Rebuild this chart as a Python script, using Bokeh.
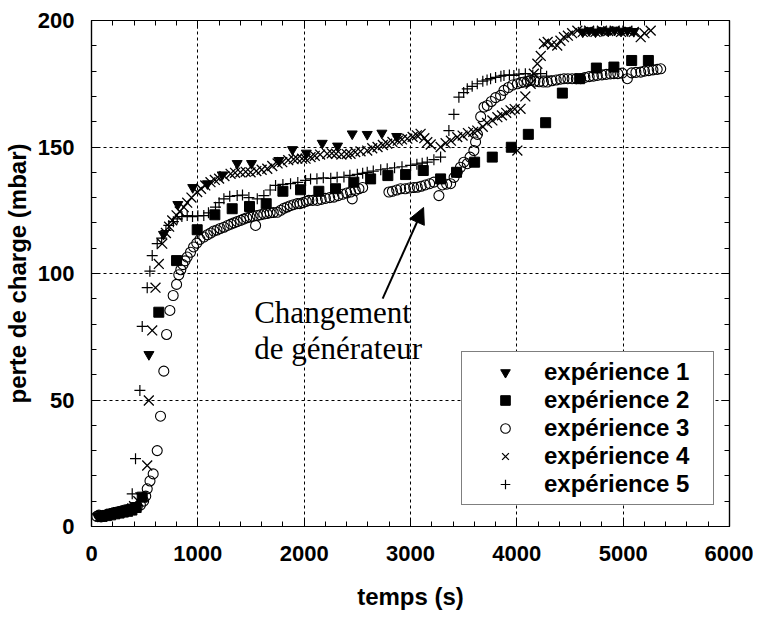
from bokeh.plotting import figure
from bokeh.models import LinearAxis, FixedTicker, Range1d, Arrow, NormalHead
from bokeh.core.properties import value
from bokeh.embed import file_html
from bokeh.resources import INLINE

# ---------------- data ----------------
X_TICKS = [0, 1000, 2000, 3000, 4000, 5000, 6000]
X_MINOR = list(range(0, 6001, 200))
Y_TICKS = [0, 50, 100, 150, 200]
Y_MINOR = list(range(0, 201, 10))

S1_X = [60, 120, 180, 240, 300, 360, 420, 540, 677, 812, 952, 1090, 1229, 1370, 1505, 1762,
        1890, 2020, 2170, 2314, 2452, 2593, 2731, 2870,
        4620, 4680, 4740, 4800, 4860, 4920, 4980, 5040, 5100]
S1_Y = [4.0, 4.5, 5.0, 5.5, 6.0, 6.8, 7.5, 68.0, 115.5, 127.3, 134.0, 135.5, 139.0, 143.5, 143.5, 144.7,
        149.0, 147.6, 151.5, 150.4, 155.2, 155.0, 155.5, 154.2,
        195.5, 196.0, 195.5, 196.0, 195.8, 196.2, 195.8, 196.0, 195.7]

S2_X = [100, 140, 180, 220, 260, 300, 340, 380, 420, 477, 633, 800, 994, 1160, 1323, 1486, 1643,
        1800, 1966, 2138, 2295, 2467, 2625, 2787, 2954, 3120, 3283, 3433, 3603, 3769, 3948,
        4108, 4271, 4428, 4591, 4748, 4913, 5080, 5237]
S2_Y = [4.0, 4.3, 4.6, 5.0, 5.3, 5.7, 6.0, 6.5, 7.5, 11.6, 84.7, 105.1, 117.3, 123.2, 125.6, 126.5, 127.6,
        132.5, 133.1, 132.5, 133.5, 136.1, 137.4, 138.7, 139.1, 140.7, 137.4, 140.0, 144.0, 146.0, 149.9,
        155.0, 159.6, 171.3, 177.0, 181.2, 181.6, 184.2, 184.2]

S3_X = [50, 70, 90, 110, 130, 150, 170, 190, 210, 230, 250, 270, 290, 310, 330, 350, 370, 400, 430, 460,
        490, 510, 524, 550, 580, 618, 649, 680, 706, 737, 768, 800, 821, 840, 860, 880, 900, 931, 960, 990,
        1020, 1056, 1090, 1120, 1150, 1180, 1210, 1245, 1280, 1310, 1340, 1370, 1402, 1430, 1460, 1490,
        1520, 1543, 1559, 1590, 1620, 1650, 1680, 1710, 1747, 1780, 1810, 1840, 1870, 1900, 1935, 1960,
        1990, 2020, 2044, 2080, 2123, 2160, 2200, 2240, 2280, 2320, 2360, 2400, 2436, 2452, 2480, 2515,
        2550, 2797, 2830, 2870, 2907, 2950, 2990, 3030, 3064, 3100, 3140, 3180, 3220, 3267, 3300, 3340,
        3377, 3410, 3440, 3470, 3502, 3534, 3560, 3596, 3612, 3630, 3660, 3691, 3722, 3760, 3800, 3847,
        3879, 3920, 3960, 4005, 4040, 4067, 4100, 4130, 4170, 4210, 4250, 4287, 4330, 4370, 4410, 4443,
        4480, 4520, 4560, 4600, 4640, 4680, 4720, 4757, 4800, 4840, 4880, 4913, 4950, 4990, 5039, 5080,
        5120, 5165, 5200, 5240, 5280, 5320, 5353]
S3_Y = [4.0, 4.5, 3.8, 4.2, 4.5, 4.8, 5.0, 5.2, 5.5, 5.6, 5.8, 6.0, 6.2, 6.5, 6.6, 6.8, 7.0, 7.3, 7.8, 8.5,
        10.0, 12.0, 14.9, 18.0, 20.8, 30.0, 43.6, 61.4, 75.9, 85.4, 91.3, 95.7, 99.5, 101.5, 103.5, 105.0,
        106.5, 108.4, 110.5, 112.0,
        113.5, 114.4, 115.3, 116.0, 116.8, 117.2, 117.8, 118.3, 119.0, 119.5, 120.0, 120.5, 121.0, 121.5,
        122.0, 122.3,
        122.6, 119.0, 122.9, 123.2, 123.5, 123.7, 124.0, 124.1, 124.2, 125.0, 125.8, 126.3, 126.8, 127.2,
        127.6, 127.6,
        128.0, 128.5, 128.9, 128.9, 128.9, 129.3, 129.7, 130.0, 130.2, 130.8, 131.3, 131.8, 132.2, 129.5,
        132.8, 133.5,
        134.0, 132.2, 132.5, 133.0, 133.5, 133.5, 133.8, 134.0, 134.1, 134.5, 135.0, 135.5, 136.1, 130.8,
        135.0, 135.3,
        135.5, 138.0, 140.0, 142.0, 144.0, 143.4, 146.0, 148.6, 152.0, 155.0, 162.0, 165.8, 166.4, 168.0,
        169.5, 170.4,
        172.4, 173.5, 174.5, 175.0, 175.5, 175.7, 176.0, 176.3, 176.0, 175.8, 175.7, 175.7, 176.2, 176.5,
        176.8, 177.0,
        177.0, 177.0, 177.0, 177.0, 177.5, 177.8, 178.0, 178.3, 178.5, 178.7, 178.9, 179.0, 179.0, 179.2,
        177.0, 179.3,
        179.5, 179.6, 180.0, 180.2, 180.5, 180.7, 180.9]

S4_X = [80, 150, 220, 290, 360, 400, 440, 461, 524, 539, 571, 602, 633, 665, 700, 730, 759, 800, 830, 868,
        900, 940, 994, 1030, 1070, 1119, 1160, 1200, 1250, 1308, 1350, 1400, 1450, 1496, 1550, 1600, 1653,
        1700, 1750, 1794, 1850, 1900, 1935, 1980, 2013, 2060, 2100, 2150, 2217, 2260, 2300, 2350, 2400,
        2436, 2480, 2530, 2593, 2640, 2690, 2740, 2781, 2830, 2880, 2920, 2970, 3020, 3060, 3095, 3130,
        3158, 3190, 3283, 3330, 3380, 3440, 3490, 3540, 3590, 3628, 3680, 3720, 3770, 3817, 3860, 3900,
        3941, 3980, 4005, 4035, 4080, 4130, 4160, 4193, 4225, 4255, 4290, 4330, 4380, 4410, 4443, 4480,
        4520, 4569, 4620, 4680, 4740, 4800, 4860, 4920, 4980, 5040, 5100, 5165, 5200, 5259]
S4_Y = [4.0, 4.5, 5.2, 5.8, 6.5, 8.0, 10.0, 11.6, 24.1, 49.8, 77.5, 94.4, 103.8, 111.8, 116.0, 118.5,
        121.0, 123.0, 124.5, 126.2, 128.0, 130.0, 132.2, 133.5, 134.8, 136.1, 137.0, 137.5, 138.5, 139.4,
        139.8, 140.0, 140.2, 140.0, 140.5, 141.0, 141.4, 142.5, 143.5, 144.0, 144.8, 145.2, 145.4, 145.4,
        145.4, 146.0, 146.5, 147.0, 147.3, 147.5, 147.3, 147.0, 147.2, 147.3, 148.0, 148.3, 148.6, 149.5,
        150.0, 150.8, 151.3, 152.0, 152.5, 153.0, 153.3, 154.0, 154.6, 155.2, 153.5, 151.9, 151.0, 150.0,
        151.5, 152.5, 153.9, 154.5, 155.5, 156.0, 156.5, 158.0, 159.5, 160.5, 161.8, 162.5, 163.5, 164.5,
        165.0, 148.6, 165.1, 170.0, 175.0, 179.0, 182.9, 186.0, 190.8, 191.5, 190.5, 190.1, 192.0, 193.4,
        194.0, 195.0, 196.0, 195.5, 196.0, 195.5, 196.0, 195.8, 196.0, 195.5, 196.0, 195.5, 193.4, 195.0,
        196.0]

S5_X = [70, 140, 210, 280, 340, 383, 414, 455, 477, 524, 549, 571, 618, 660, 700, 727, 770, 806, 850, 900,
        950, 1000, 1056, 1100, 1166, 1200, 1245, 1300, 1370, 1420, 1480, 1559, 1621, 1680, 1731, 1800,
        1872, 1940, 2013, 2060, 2120, 2180, 2250, 2310, 2374, 2430, 2500, 2550, 2593, 2650, 2720, 2781,
        2850, 2920, 3001, 3060, 3110, 3158, 3220, 3283, 3361, 3408, 3455, 3500, 3534, 3580, 3628, 3680,
        3720, 3753, 3800, 3850, 3879, 3930, 3972, 4020, 4080, 4150, 4224, 4280]
S5_Y = [4.3, 4.8, 5.5, 6.0, 7.0, 12.9, 26.8, 53.8, 79.1, 94.4, 100.9, 107.1, 111.8, 114.0, 117.0, 119.0,
        120.5, 121.6, 122.5, 122.9, 122.5, 122.8, 122.9, 124.0, 126.2, 128.0, 129.5, 130.5, 130.8, 131.0,
        130.0, 129.5, 130.8, 133.0, 134.8, 135.2, 135.5, 136.0, 136.8, 137.4, 137.5, 137.8, 137.6, 138.0,
        138.1, 138.8, 139.2, 139.6, 140.0, 140.5, 141.0, 141.4, 141.8, 142.2, 142.7, 143.2, 143.6, 144.0,
        145.0, 146.0, 156.5, 162.9, 169.7, 171.5, 173.0, 174.0, 175.0, 176.0, 176.5, 177.0, 177.5, 178.0,
        178.3, 178.5, 178.3, 178.8, 179.0, 178.5, 179.0, 178.0]

LABELS = ["expérience 1", "expérience 2", "expérience 3", "expérience 4", "expérience 5"]
ANNOT_TEXT = ["Changement", "de générateur"]
ANNOT_X = [1530, 1530]
ANNOT_Y = [84.5, 70.5]
ARROW_FROM = (2738, 90.1)
ARROW_TO = (3123, 126.1)

SANS = "Liberation Sans"
SERIF = "Liberation Serif"

# ---------------- figure ----------------
p = figure(width=753, height=617, x_range=Range1d(0, 6000), y_range=Range1d(0, 200),
           output_backend="svg", toolbar_location=None,
           min_border_left=91, min_border_right=24, min_border_top=20, min_border_bottom=91,
           x_axis_label="temps (s)", y_axis_label="perte de charge (mbar)")
p.background_fill_color = "white"
p.border_fill_color = "white"
p.outline_line_color = "black"
p.outline_line_width = 1.2

xt = FixedTicker(ticks=X_TICKS, minor_ticks=X_MINOR)
yt = FixedTicker(ticks=Y_TICKS, minor_ticks=Y_MINOR)

xa = p.xaxis[0]
ya = p.yaxis[0]
xa.ticker = xt
ya.ticker = yt
for ax in (xa, ya):
    ax.axis_line_color = "black"
    ax.axis_line_width = 1.2
    ax.major_tick_in = 8
    ax.major_tick_out = 0
    ax.minor_tick_in = 5
    ax.minor_tick_out = 0
    ax.major_tick_line_color = "black"
    ax.minor_tick_line_color = "black"
    ax.major_label_text_font = SANS
    ax.major_label_text_font_style = "bold"
    ax.major_label_text_font_size = "22px"
    ax.major_label_text_color = "black"
    ax.axis_label_text_font = SANS
    ax.axis_label_text_font_style = "bold"
    ax.axis_label_text_font_size = "24px"
    ax.axis_label_text_color = "black"
xa.major_label_standoff = 19
xa.axis_label_standoff = 19
ya.major_label_standoff = 17
ya.axis_label_standoff = 4

# mirrored ticks on top and right (no labels drawn)
for loc, tk in (("above", xt), ("right", yt)):
    ax = LinearAxis(ticker=tk, major_label_text_color=None, major_label_text_font_size="1px",
                    major_label_standoff=0,
                    major_tick_in=8, major_tick_out=0, minor_tick_in=5, minor_tick_out=0,
                    axis_line_color="black", axis_line_width=1.2,
                    major_tick_line_color="black", minor_tick_line_color="black")
    p.add_layout(ax, loc)

for g, tk in ((p.xgrid[0], xt), (p.ygrid[0], yt)):
    g.ticker = tk
    g.grid_line_color = "black"
    g.grid_line_dash = "3 3"
    g.grid_line_width = 1

# ---------------- series ----------------
p.scatter(S1_X, S1_Y, marker="inverted_triangle", size=10, fill_color="black",
          line_color="black", legend_label=LABELS[0])
p.scatter(S2_X, S2_Y, marker="square", size=10, fill_color="black",
          line_color="black", legend_label=LABELS[1])
p.scatter(S3_X, S3_Y, marker="circle", size=10, fill_color=None,
          line_color="black", line_width=1.1, legend_label=LABELS[2])
p.scatter(S4_X, S4_Y, marker="x", size=14, line_color="black", line_width=1.3,
          legend_label=LABELS[3])
p.scatter(S5_X, S5_Y, marker="cross", size=11, line_color="black", line_width=1.2,
          legend_label=LABELS[4])

# ---------------- annotation ----------------
p.text(x=ANNOT_X, y=ANNOT_Y, text=ANNOT_TEXT, text_font=value(SERIF),
       text_font_size=value("31px"), text_color="black", text_baseline="alphabetic",
       text_align="left")
p.add_layout(Arrow(end=NormalHead(size=16, fill_color="black", line_color="black"),
                   x_start=ARROW_FROM[0], y_start=ARROW_FROM[1],
                   x_end=ARROW_TO[0], y_end=ARROW_TO[1],
                   line_width=2, line_color="black"))

# ---------------- legend ----------------
leg = p.legend[0]
leg.location = (370, 21)
leg.margin = 0
leg.padding = 6
leg.spacing = 0
leg.glyph_width = 74
leg.glyph_height = 24
leg.label_height = 24
leg.label_width = 163
leg.label_standoff = 2
leg.label_text_font = SANS
leg.label_text_font_style = "bold"
leg.label_text_font_size = "24px"
leg.label_text_color = "black"
leg.border_line_color = "black"
leg.border_line_width = 1.2
leg.background_fill_color = "white"
leg.background_fill_alpha = 1.0

open("out.html", "w").write(file_html(p, INLINE))
